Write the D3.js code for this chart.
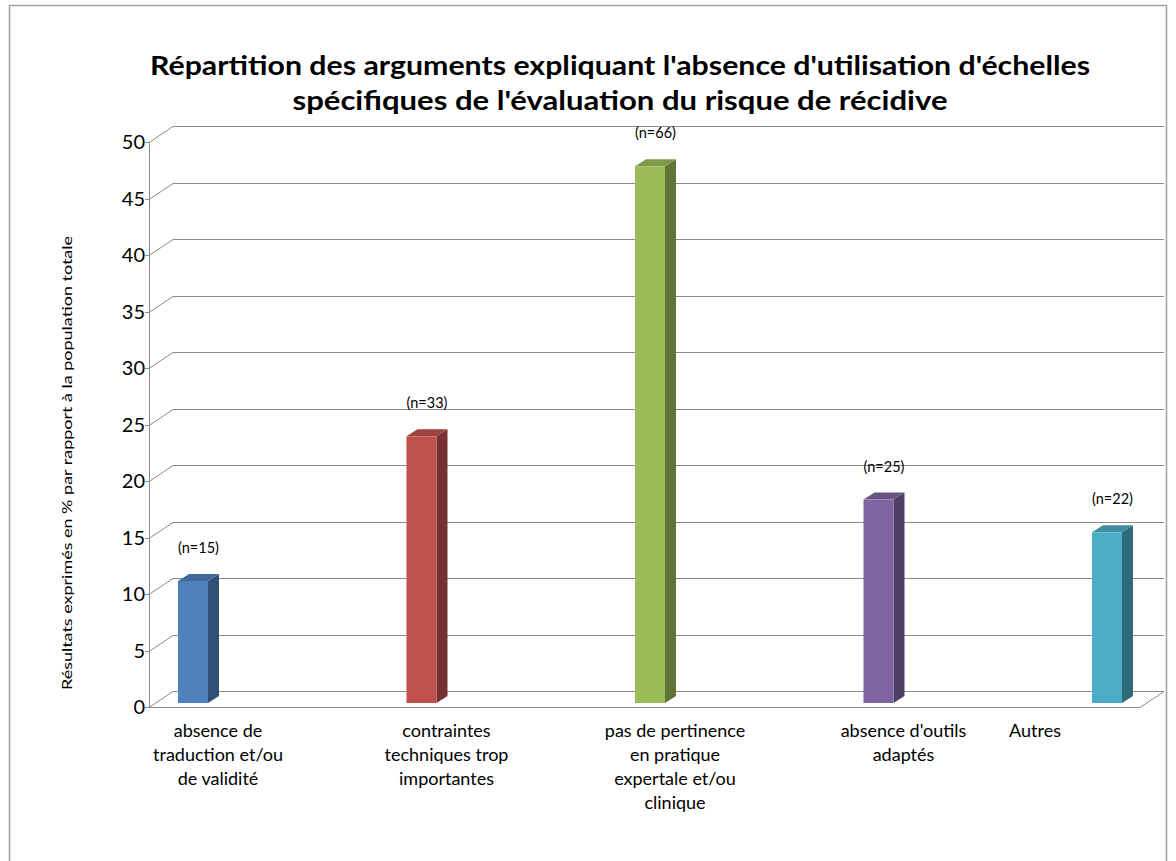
<!DOCTYPE html>
<html>
<head>
<meta charset="utf-8">
<script src="https://cdn.jsdelivr.net/npm/d3@7"></script>
<style>
  body { margin: 0; background: #fff; }
  text { font-family: Lato, "Open Sans", sans-serif; fill: #000; }
</style>
</head>
<body>
<svg id="chart" width="1176" height="861"></svg>
<script>
  // Data
  var categories = [
    ["absence de", "traduction et/ou", "de validité"],
    ["contraintes", "techniques trop", "importantes"],
    ["pas de pertinence", "en pratique", "expertale et/ou", "clinique"],
    ["absence d'outils", "adaptés"],
    ["Autres"]
  ];
  var values = [10.8, 23.6, 47.5, 18.0, 15.1];
  var counts = ["(n=15)", "(n=33)", "(n=66)", "(n=25)", "(n=22)"];
  var yTicks = [0, 5, 10, 15, 20, 25, 30, 35, 40, 45, 50];

  var frontColors = ["#4f81bd", "#c0504d", "#9bbb59", "#8064a2", "#4bacc6"];

  var svg = d3.select("#chart");

  // outer border
  svg.append("rect")
    .attr("x", 9.5).attr("y", 5.5)
    .attr("width", 1157).attr("height", 870)
    .attr("fill", "none").attr("stroke", "#a0a0a0").attr("stroke-width", 1.5);

  // Title
  var titleLines = [
    "Répartition des arguments expliquant l'absence d'utilisation d'échelles",
    "spécifiques de l'évaluation du risque de récidive"
  ];
  var titleWidths = [940, 655];
  svg.selectAll("text.title")
    .data(titleLines)
    .enter().append("text")
    .attr("class", "title")
    .attr("x", 620)
    .attr("y", function(d, i) { return 75 + i * 35; })
    .attr("text-anchor", "middle")
    .attr("font-size", 26)
    .attr("font-weight", "bold")
    .attr("textLength", function(d, i) { return titleWidths[i]; })
    .attr("lengthAdjust", "spacingAndGlyphs")
    .text(function(d) { return d; });

  // 3D geometry
  var depthX = 24, depthY = -16;   // wall depth offset
  var left = 149, right = 1140;

  var y = d3.scaleLinear().domain([0, 50]).range([707, 142]);
  var x = d3.scalePoint().domain(d3.range(values.length)).range([187, 1101]);

  var grid = svg.append("g").attr("stroke", "#8a8a8a").attr("stroke-width", 1).attr("fill", "none");

  // back wall gridlines + side wall diagonals
  yTicks.forEach(function(t) {
    var yy = Math.round(y(t)) + 0.5;
    if (t > 0) {
      grid.append("line")
        .attr("x1", left + depthX).attr("x2", right + depthX)
        .attr("y1", yy + depthY).attr("y2", yy + depthY);
    }
    grid.append("line")
      .attr("x1", left).attr("y1", yy)
      .attr("x2", left + depthX).attr("y2", yy + depthY);
  });

  // floor
  var y0 = Math.round(y(0)) + 0.5;
  grid.append("path")
    .attr("d", "M" + left + "," + y0 + "L" + right + "," + y0 +
      "L" + (right + depthX) + "," + (y0 + depthY) +
      "L" + (left + depthX) + "," + (y0 + depthY));

  // front value axis
  grid.append("line")
    .attr("x1", left + 0.5).attr("x2", left + 0.5)
    .attr("y1", y(50)).attr("y2", y0);
  yTicks.forEach(function(t) {
    var yy = Math.round(y(t)) + 0.5;
    grid.append("line").attr("x1", left - 4).attr("x2", left).attr("y1", yy).attr("y2", yy);
  });

  svg.selectAll("text.ytick")
    .data(yTicks)
    .enter().append("text")
    .attr("class", "ytick")
    .attr("x", 145)
    .attr("y", function(d) { return y(d) + 7; })
    .attr("text-anchor", "end")
    .attr("font-size", 20)
    .text(function(d) { return d; });

  // axis title
  svg.append("text")
    .attr("transform", "translate(72,463) rotate(-90)")
    .attr("text-anchor", "middle")
    .attr("font-size", 13)
    .attr("textLength", 454)
    .attr("lengthAdjust", "spacingAndGlyphs")
    .text("Résultats exprimés en % par rapport à la population totale");

  // Bars (front face set a quarter of the depth back)
  var barW = 30, bdx = 11, bdy = -7;
  var shiftX = depthX * 0.25, shiftY = depthY * 0.25;

  var bars = svg.append("g").selectAll("g.bar")
    .data(values)
    .enter().append("g")
    .attr("class", "bar");

  function fx(i) { return x(i) - barW / 2 + shiftX; }
  function fy(v) { return y(v) + shiftY; }

  // side face
  bars.append("path")
    .attr("fill", function(d, i) { return d3.color(frontColors[i]).darker(1.35); })
    .attr("d", function(d, i) {
      var xr = fx(i) + barW, yt = fy(d), yb = fy(0);
      return "M" + xr + "," + yt + "L" + (xr + bdx) + "," + (yt + bdy) +
        "L" + (xr + bdx) + "," + (yb + bdy) + "L" + xr + "," + yb + "Z";
    });
  // top face
  bars.append("path")
    .attr("fill", function(d, i) { return d3.color(frontColors[i]).darker(0.55); })
    .attr("d", function(d, i) {
      var xl = fx(i), yt = fy(d);
      return "M" + xl + "," + yt + "L" + (xl + bdx) + "," + (yt + bdy) +
        "L" + (xl + barW + bdx) + "," + (yt + bdy) + "L" + (xl + barW) + "," + yt + "Z";
    });
  // front face
  bars.append("rect")
    .attr("fill", function(d, i) { return frontColors[i]; })
    .attr("x", function(d, i) { return fx(i); })
    .attr("y", function(d) { return fy(d); })
    .attr("width", barW)
    .attr("height", function(d) { return fy(0) - fy(d); });

  // count labels
  bars.append("text")
    .attr("x", function(d, i) { return x(i) + shiftX + bdx / 2; })
    .attr("y", function(d) { return fy(d) - 28; })
    .attr("text-anchor", "middle")
    .attr("font-size", 14.5)
    .text(function(d, i) { return counts[i]; });

  // category labels
  var cats = svg.append("g").selectAll("text.cat")
    .data(categories)
    .enter().append("text")
    .attr("class", "cat")
    .attr("text-anchor", "middle")
    .attr("font-size", 18)
    .attr("transform", function(d, i) {
      var cx = Math.min(x(i) + 31, 1035);
      return "translate(" + cx + ",737)";
    });
  cats.selectAll("tspan")
    .data(function(d) { return d; })
    .enter().append("tspan")
    .attr("x", 0)
    .attr("dy", function(d, j) { return j === 0 ? 0 : 24; })
    .text(function(d) { return d; });
</script>
</body>
</html>
